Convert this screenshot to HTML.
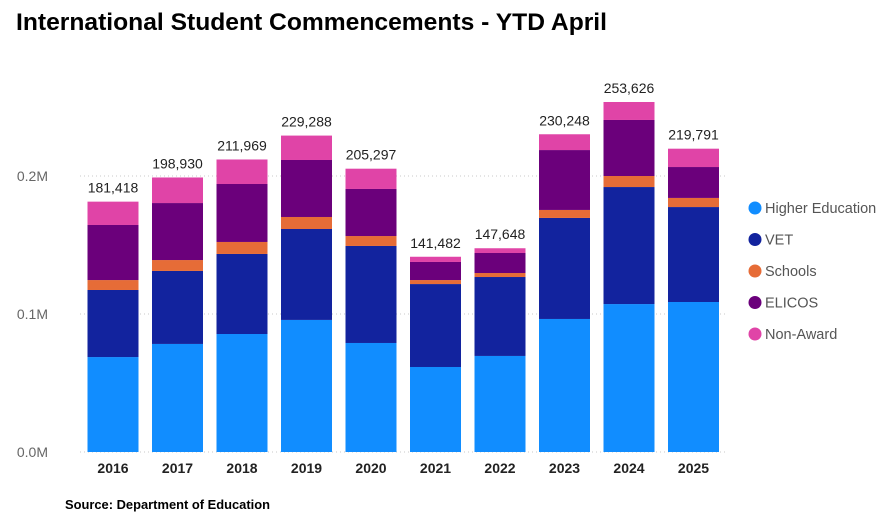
<!DOCTYPE html>
<html><head><meta charset="utf-8"><style>
body{margin:0;background:#fff;}
svg text{font-family:"Liberation Sans",Arial,sans-serif;}
</style></head><body>
<svg id="chart" width="880" height="518" xmlns="http://www.w3.org/2000/svg">
<text x="16" y="30" font-size="24" font-weight="bold" fill="#000" textLength="591" lengthAdjust="spacingAndGlyphs">International Student Commencements - YTD April</text>
<text x="65" y="509" font-size="12.5" font-weight="bold" fill="#000" textLength="205" lengthAdjust="spacingAndGlyphs">Source: Department of Education</text>
<g id="grid"></g><g id="bars"></g><g id="labels"></g><g id="legend"></g>
</svg>
<script>
const years=["2016","2017","2018","2019","2020","2021","2022","2023","2024","2025"];
const higherEd=[68.8,78.3,85.5,95.7,79.0,61.6,69.6,96.4,107.2,108.7];
const vet=[48.6,52.9,58.0,65.9,70.3,60.1,57.2,73.2,84.8,68.8];
const schools=[7.2,7.9,8.7,8.7,7.2,2.9,2.9,5.8,8.0,6.6];
const elicos=[39.9,41.3,42.0,41.3,34.1,13.1,14.5,43.4,40.6,22.4];
const totals=[181418,198930,211969,229288,205297,141482,147648,230248,253626,219791];
const yTicks=[0,100,200];
const yTickLabels=["0.0M","0.1M","0.2M"];
const seriesNames=["Higher Education","VET","Schools","ELICOS","Non-Award"];
const colors=["#118DFF","#12239E","#E66C37","#6B007B","#E044A7"];
const NS="http://www.w3.org/2000/svg";
const y0=452,pxPerK=1.38;
function yScale(v){return y0-v*pxPerK;}
function xScale(i){return 113+i*64.5;}
function mk(tag,attrs,parent){const e=document.createElementNS(NS,tag);for(const k in attrs)e.setAttribute(k,attrs[k]);parent.appendChild(e);return e;}
const grid=document.getElementById('grid'),bars=document.getElementById('bars'),labels=document.getElementById('labels'),legend=document.getElementById('legend');
yTicks.forEach((t,i)=>{
  const l=mk('line',{x1:80,x2:728,y1:yScale(t),y2:yScale(t),stroke:'#c8c8c8','stroke-dasharray':'1,3'},grid);
  
  
  const tx=mk('text',{x:48,y:yScale(t)+5,'font-size':14,fill:'#666','text-anchor':'end'},grid);
  tx.textContent=yTickLabels[i];
  
  
});
years.forEach((yr,i)=>{
  const vals=[higherEd[i],vet[i],schools[i],elicos[i],totals[i]/1000-higherEd[i]-vet[i]-schools[i]-elicos[i]];
  let acc=0;const cx=xScale(i);
  vals.forEach((v,s)=>{
    const r=mk('rect',{x:cx-25.5,width:51,y:yScale(acc+v),height:v*pxPerK,fill:colors[s]},bars);
    
    
    acc+=v;
  });
  const tl=mk('text',{x:cx,y:yScale(totals[i]/1000)-9,'font-size':14,fill:'#222','text-anchor':'middle'},labels);
  tl.textContent=totals[i].toLocaleString('en-US');
  
  
  const xl=mk('text',{x:cx,y:473,'font-size':14,'font-weight':'bold',fill:'#222','text-anchor':'middle'},labels);
  xl.textContent=yr;
  
  
});
seriesNames.forEach((n,i)=>{
  const yy=208+i*31.5;
  const g=mk('g',{},legend);
  
  
  mk('circle',{cx:755,cy:yy,r:6.5,fill:colors[i]},g);
  const t=mk('text',{x:765,y:yy+5,'font-size':14.5,fill:'#555'},g);
  t.textContent=n;
});
</script>
</body></html>
